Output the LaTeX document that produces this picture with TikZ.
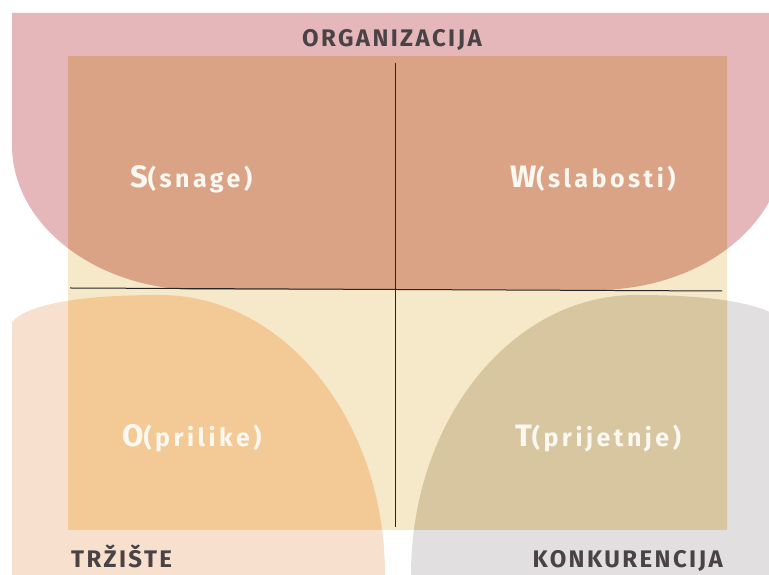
\documentclass[tikz,border=0pt]{standalone}
\usepackage{fontspec}
\setmainfont{Fira Sans}
\newfontfamily\areafont{Fira Sans}[LetterSpace=10]
\newfontfamily\quadfont{Fira Sans}[LetterSpace=14]
\definecolor{orgpink}{RGB}{229,183,187}
\definecolor{orgsalmon}{RGB}{219,163,134}
\definecolor{matrixcream}{RGB}{245,233,201}
\definecolor{marketpeach}{RGB}{248,224,207}
\definecolor{marketorange}{RGB}{243,202,150}
\definecolor{rivalgray}{RGB}{226,223,225}
\definecolor{rivalolive}{RGB}{215,198,160}
\definecolor{labelgray}{RGB}{74,67,70}
\definecolor{quadwhite}{RGB}{251,248,242}
\newcommand{\orgshape}{(12,562) -- (12,430) arc[start angle=180, end angle=270, x radius=188, y radius=145] -- (596,285) arc[start angle=270, end angle=360, x radius=188, y radius=145] -- (784,562) -- cycle}
\newcommand{\marketshape}{(12,-10) -- (12,253) .. controls (30,273) and (90,280) .. (160,280) arc[start angle=90, end angle=0, x radius=225, y radius=280] -- (385,-10) -- cycle}
\newcommand{\rivalshape}{(784,-10) -- (784,253) .. controls (766,273) and (706,280) .. (636,280) arc[start angle=90, end angle=180, x radius=225, y radius=280] -- (411,-10) -- cycle}
\begin{document}
\begin{tikzpicture}[x=1pt, y=1pt,
  areatext/.style={font=\areafont\bfseries\fontsize{24}{24}\selectfont, text=labelgray, inner sep=0pt},
  quadtext/.style={font=\quadfont\bfseries, text=quadwhite, inner sep=0pt, anchor=base west}]
\useasboundingbox (0,0) rectangle (769,575);
\fill[white] (0,0) rectangle (769,575);
% outer areas
\fill[orgpink] \orgshape;
\fill[marketpeach] \marketshape;
\fill[rivalgray] \rivalshape;
% matrix
\fill[matrixcream] (68,45) rectangle (727,518);
\begin{scope}
\clip (68,45) rectangle (727,518);
\fill[orgsalmon] \orgshape;
\fill[marketorange] \marketshape;
\fill[rivalolive] \rivalshape;
\end{scope}
% axes
\coordinate (axtop) at (395,512);
\coordinate (axbottom) at (395,48);
\coordinate (axleft) at (70,287);
\coordinate (axright) at (722,284);
\draw[line width=1pt, black!85] (axtop) -- (axbottom);
\draw[line width=1pt, black!85] (axleft) -- (axright);
% labels
\node[areatext, anchor=base] (org) at (392,528) {ORGANIZACIJA};
\node[areatext, anchor=base west] (market) at (71,7) {TRŽIŠTE};
\node[areatext, anchor=base east] (rival) at (723,7) {KONKURENCIJA};
\node[quadtext] (s) at (130,387) {\fontsize{31}{31}\selectfont S\fontsize{25}{25}\selectfont(snage)};
\node[quadtext] (w) at (510,387) {\fontsize{31}{31}\selectfont W\fontsize{25}{25}\selectfont(slabosti)};
\node[quadtext] (o) at (122,128) {\fontsize{31}{31}\selectfont O\fontsize{25}{25}\selectfont(prilike)};
\node[quadtext] (t) at (515,128) {\fontsize{31}{31}\selectfont T\fontsize{25}{25}\selectfont(prijetnje)};
\end{tikzpicture}
\end{document}
